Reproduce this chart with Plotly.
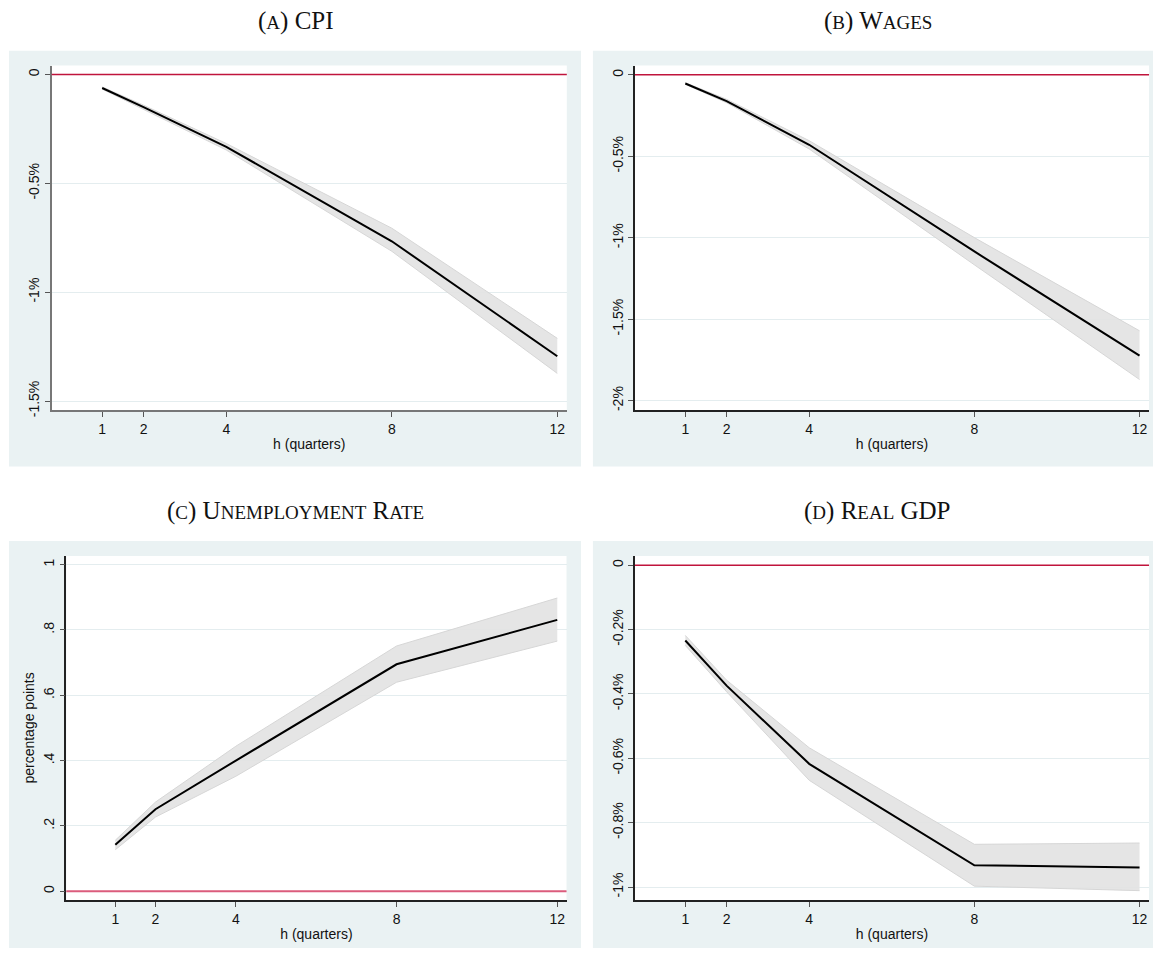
import plotly.graph_objects as go

OFF = 8            # page body margin in the browser
VIS_RIGHT = 1153   # right-most visible page pixel
W, H = VIS_RIGHT - OFF, 956 - 2 * OFF
KX = (VIS_RIGHT - 9) / (1161 - 9)

# ---------------- data ----------------
HORIZON = [1, 2, 4, 8, 12]
X_TICKS = [1, 2, 4, 8, 12]
ZERO = 0

CPI = [-0.062, -0.150, -0.332, -0.766, -1.294]
CPI_HI = [-0.057, -0.141, -0.317, -0.706, -1.212]
CPI_LO = [-0.067, -0.160, -0.347, -0.812, -1.373]

WAGES = [-0.053, -0.161, -0.429, -1.084, -1.723]
WAGES_HI = [-0.048, -0.150, -0.404, -0.999, -1.571]
WAGES_LO = [-0.058, -0.171, -0.455, -1.166, -1.870]

UNEMP = [0.142, 0.251, 0.400, 0.695, 0.831]
UNEMP_HI = [0.156, 0.273, 0.444, 0.751, 0.898]
UNEMP_LO = [0.127, 0.227, 0.352, 0.640, 0.766]

GDP = [-0.234, -0.374, -0.617, -0.932, -0.939]
GDP_HI = [-0.218, -0.357, -0.567, -0.867, -0.863]
GDP_LO = [-0.249, -0.393, -0.668, -0.997, -1.011]

A_TICKS = [0, -0.5, -1, -1.5]
A_LABELS = ["0", "-0.5%", "-1%", "-1.5%"]
B_TICKS = [0, -0.5, -1, -1.5, -2]
B_LABELS = ["0", "-0.5%", "-1%", "-1.5%", "-2%"]
C_TICKS = [0, 0.2, 0.4, 0.6, 0.8, 1]
C_LABELS = ["0", ".2", ".4", ".6", ".8", "1"]
D_TICKS = [0, -0.2, -0.4, -0.6, -0.8, -1]
D_LABELS = ["0", "-0.2%", "-0.4%", "-0.6%", "-0.8%", "-1%"]

SC = "<span style='font-size:19px'>%s</span>"
TITLES = [
    "(" + SC % "A" + ") CPI",
    "(" + SC % "B" + ") W" + SC % "AGES",
    "(" + SC % "C" + ") U" + SC % "NEMPLOYMENT" + " R" + SC % "ATE",
    "(" + SC % "D" + ") R" + SC % "EAL" + " GDP",
]

# ---------------- layout geometry (reference page pixels) ----------------
def px_x(v):
    return (9 + (v - 9) * KX - OFF) / W

def px_y(v):
    return 1 - (v - OFF) / H

panels = [
    dict(pl=52, pr=570.7, pt=66, pb=413, bl=9, br=585, bt=51, bb=470, tx=298, ty=21,
         yr=[-1.541, 0.041], yt=A_TICKS, yl=A_LABELS, y=CPI, hi=CPI_HI, lo=CPI_LO,
         zc="#C0143C", zw=1.5, axc="#777777", ytitle=""),
    dict(pl=639.3, pr=1157, pt=66, pb=413, bl=597, br=1175, bt=51, bb=470, tx=884, ty=21,
         yr=[-2.057, 0.057], yt=B_TICKS, yl=B_LABELS, y=WAGES, hi=WAGES_HI, lo=WAGES_LO,
         zc="#C0143C", zw=1.5, axc="#222222", ytitle=""),
    dict(pl=66.7, pr=570.4, pt=560, pb=906.7, bl=9, br=585, bt=545, bb=960, tx=298, ty=515,
         yr=[-0.027, 1.027], yt=C_TICKS, yl=C_LABELS, y=UNEMP, hi=UNEMP_HI, lo=UNEMP_LO,
         zc="#DB5C7C", zw=2, axc="#222222", ytitle="percentage points"),
    dict(pl=639.3, pr=1157, pt=560, pb=906.7, bl=597, br=1175, bt=545, bb=960, tx=884, ty=515,
         yr=[-1.040, 0.029], yt=D_TICKS, yl=D_LABELS, y=GDP, hi=GDP_HI, lo=GDP_LO,
         zc="#C0143C", zw=1.5, axc="#222222", ytitle=""),
]

fig = go.Figure()
shapes = []
annotations = []
layout = {}

TICKFONT = dict(family="Liberation Sans, Arial, sans-serif", size=14, color="#111111")

for i, p in enumerate(panels):
    n = "" if i == 0 else str(i + 1)
    xa, ya = "x" + n, "y" + n

    shapes.append(dict(type="rect", xref="paper", yref="paper",
                       x0=px_x(p["bl"]), x1=px_x(p["br"]),
                       y0=px_y(p["bb"]), y1=px_y(p["bt"]),
                       fillcolor="#EAF2F3", line=dict(width=0), layer="below"))
    shapes.append(dict(type="rect", xref=xa + " domain", yref=ya + " domain",
                       x0=0, x1=1, y0=0, y1=1,
                       fillcolor="white", line=dict(width=0), layer="below"))
    shapes.append(dict(type="line", xref=xa + " domain", yref=ya,
                       x0=0, x1=1, y0=ZERO, y1=ZERO,
                       line=dict(color=p["zc"], width=p["zw"]), layer="above"))

    fig.add_trace(go.Scatter(x=HORIZON, y=p["hi"], mode="lines",
                             line=dict(color="#D6D6D6", width=1),
                             xaxis=xa, yaxis=ya, showlegend=False, hoverinfo="skip"))
    fig.add_trace(go.Scatter(x=HORIZON, y=p["lo"], mode="lines",
                             line=dict(color="#D6D6D6", width=1),
                             fill="tonexty", fillcolor="rgba(226,226,226,0.9)",
                             xaxis=xa, yaxis=ya, showlegend=False, hoverinfo="skip"))
    fig.add_trace(go.Scatter(x=HORIZON, y=p["y"], mode="lines",
                             line=dict(color="black", width=2),
                             xaxis=xa, yaxis=ya, showlegend=False))

    layout["xaxis" + n] = dict(
        domain=[max(0, px_x(p["pl"])), min(1, px_x(p["pr"]))],
        range=[-0.22, 12.23], anchor=ya,
        tickmode="array", tickvals=X_TICKS, ticktext=[str(t) for t in X_TICKS],
        ticks="outside", ticklen=5, tickcolor="#555555", tickwidth=1,
        showline=True, linecolor=p["axc"], linewidth=1.5,
        showgrid=False, zeroline=False, tickfont=TICKFONT,
        title=dict(text="h (quarters)", font=TICKFONT, standoff=4),
    )
    layout["yaxis" + n] = dict(
        domain=[px_y(p["pb"]), px_y(p["pt"])],
        range=p["yr"], anchor=xa,
        tickmode="array", tickvals=p["yt"], ticktext=p["yl"],
        tickangle=-90,
        ticks="outside", ticklen=5, tickcolor="#555555", tickwidth=1,
        showline=True, linecolor=p["axc"], linewidth=1.5,
        showgrid=True, gridcolor="#E4EDEF", gridwidth=1,
        zeroline=False, tickfont=TICKFONT,
        title=dict(text=p["ytitle"], font=TICKFONT, standoff=3),
    )

    annotations.append(dict(text=TITLES[i], xref="paper", yref="paper",
                            x=px_x(p["tx"]), y=px_y(p["ty"]),
                            xanchor="center", yanchor="middle", showarrow=False,
                            font=dict(family="Liberation Serif, Times New Roman, serif",
                                      size=25, color="#111111")))

fig.update_layout(
    width=W, height=H,
    margin=dict(l=0, r=0, t=0, b=0),
    paper_bgcolor="white", plot_bgcolor="white",
    shapes=shapes, annotations=annotations,
    showlegend=False,
    **layout,
)

fig.write_html("out.html")
